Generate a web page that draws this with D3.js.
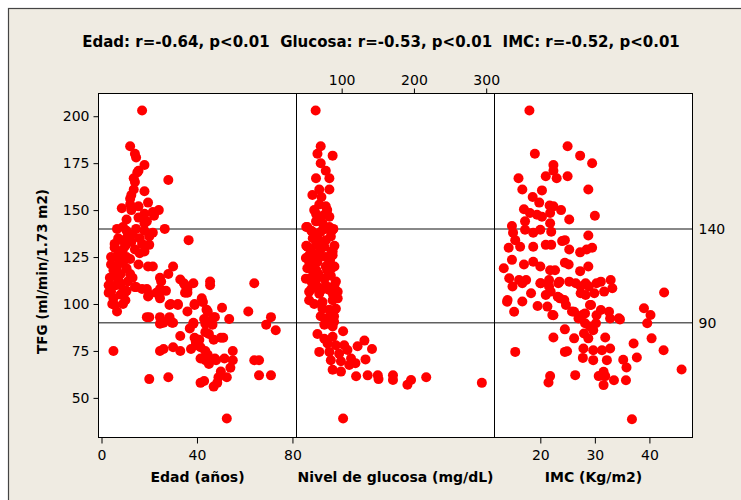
<!DOCTYPE html>
<html>
<head>
<meta charset="utf-8">
<script src="https://cdn.jsdelivr.net/npm/d3@7"></script>
<style>
  body { margin: 0; background: #fff; }
  svg text { font-family: "DejaVu Sans", Verdana, sans-serif; }
</style>
</head>
<body>
<svg id="chart" width="741" height="500"></svg>
<script>
// --- data: [x, TFG] pairs
const edadData = [
  [17,203],[12,184],[14,180],[14.5,178],[18,174],[15.5,171],[15,170],[13.5,167],[14,165],[28,166],
  [18,160],[12.5,158],[13.5,161],[12,156],[19.5,154],[12,153],[15.5,152],[8.5,151],[12.5,150],[24,150],
  [18,148],[21.5,149],[22,147],[10.5,145],[15.5,146],[19,144],[18,143],[6.5,140],[10.5,139],[14.5,140],
  [18,139],[21.5,138],[26.5,140],[36.5,134],[8.5,134],[12.5,133],[17,132],[20,131.5],[5.5,132],[5.5,130],
  [9,129],[14,129],[18,128],[7,127],[4,125],[7,124],[12,124],[16,127],[10.5,125],[6.5,120],
  [10.5,119],[15.5,121],[19.5,120],[21.5,120],[30,120],[28,116],[3.5,114],[7,113],[12,116],[6,115],
  [24.5,114],[25,112],[33,113],[35,110],[38.5,111],[45.5,112],[45.5,110],[64,111],[4,106.5],[10,106.5],
  [14,109],[17,108],[20,105],[24,105],[35,106],[5,103],[10,102],[19.5,104],[24.5,103],[5.5,99.5],
  [9,100],[6.5,96],[19,93],[20,93],[24.5,93],[28.5,99.5],[32,99.5],[28.5,93],[36,96],[39,99.5],
  [42,103],[44,97],[47,93],[24.5,89.5],[30,90],[38.5,89.5],[43.5,89.5],[3,106],[4.5,100],[8,105],
  [10.5,107],[14.5,109],[19,108],[23,106],[24.5,108],[27,107],[26,90],[29,100],[32,100],[29.5,90],
  [34.5,111],[36,106],[36,108],[39,100],[42.5,101],[44.5,96],[38.5,90],[37,87],[43,92],[44.5,91],
  [47.5,93],[50.5,98],[53.5,92],[46.5,89],[43.5,85],[45,84],[39,82],[39.5,80],[41,81],[33,83],
  [47,81],[50,82],[51,82],[30,77],[33,75],[24.5,75],[26,76],[37.5,76],[39.5,78],[41.5,77],
  [43.5,75],[44.5,73],[41.5,71],[43.5,70],[45,68],[47.5,71],[48,70],[51.5,71],[55,70],[55,75],
  [54,66],[52.5,61],[50,64],[49,61],[48.5,58],[47,56],[41.5,58],[43,59],[64,70],[66,70],
  [66,62],[71,62],[69,89],[71,93],[73,86],[61.5,96],[5,75],[20,60],[28,61],[52.5,39],
  [5,118],[8,116],[4,121],[9,122],[6,110],[8,110],[3,110],[11,112],[13,114],[7,135],
  [10,131],[11,136],[9,141],[13,137],[16,135],[20,136]
];

const glucosaData = [
  [64,203],[71,184],[66.5,180],[87.5,179],[71,175],[78,171],[64.5,167],[83,167],[69,161],[59.5,158],
  [83,161],[69,153],[78,152],[64.5,148],[76,147.5],[83,146.5],[64.5,144],[73.5,143],[83,141],[52.5,141],
  [59.5,138.5],[71,138.5],[87.5,139.5],[66.5,135],[78,134],[85,136],[52.5,130.5],[64.5,131.5],[76,130.5],[87.5,128],
  [55,126],[69,125],[83,125],[55,122.5],[66.5,122.5],[83,122.5],[51,141],[58,139],[88.5,140],[51,131],
  [54,125],[56,119],[65,118],[86,128],[84,123.5],[86,119],[60,135],[70,128],[80,118],[75,108],
  [65,110],[85,115],[72,100],[60,115],[78,140],[68,145],[90,110],[58,108],
  [62,150],[72,157],[80,150],[58,128],[73,133],[90,131],[62,121],[90,120],[68,116],[78,110],[58,112],[88,105],
  [50.5,124.5],[64.5,124.5],[78,125],[87.5,126],[52.5,119],[64.5,118],[78,120],[85,119],[50.5,113.5],[64.5,113],
  [76,113.5],[92,112],[55,106.5],[69,105.5],[83,107.5],[94.5,106.5],[55,102],[62,100],[73.5,101],[87.5,102],
  [94.5,103],[73.5,97.5],[83,97],[92,97.5],[71,93.5],[80.5,92.5],[89.5,93.5],[76,89],[87.5,88],[89.5,90.5],
  [66.5,84],[76,81.5],[87.5,82.5],[102,85.5],[80.5,79],[92,78],[103.5,78],[122,77.5],[131.5,80.5],[142,76],
  [69,74.5],[83,74.5],[96.5,73.5],[108,75.5],[85,70],[99,69.5],[113,71],[119,68.5],[133,70.5],[87.5,65],
  [99,64],[110.5,67.5],[120,61.5],[136,62],[150,62],[151,60],[171,62],[171,59.5],[191,57],[196,59.5],
  [217,61],[294,58],[102,39]
];

const imcData = [
  [18,203],[19,180],[25,184],[27.3,179],[29.5,175],[16,167],[21,168],[22.4,174],[22.4,171],[23,167],
  [25,168],[16.7,161],[20.3,160.5],[18.6,157],[28.8,161],[19.8,154],[21.7,152.5],[22.4,152],[23.8,150],[25.3,145],
  [30,147],[17,150.5],[18.1,148.5],[19.4,147.5],[20.3,146.5],[21.8,148.5],[14.8,141.5],[17.2,144],[17.2,139.5],[18.7,138],
  [20,139.5],[21.8,143],[22,138.5],[15,138],[15.4,134],[28.8,136.5],[14.2,130],[16.3,130.5],[18.7,130.5],[21,131.5],
  [22,131.5],[24,133.5],[24.5,134],[25.3,129],[27.3,127.5],[28.5,129],[29.5,130],[13.3,119],[14.8,123.5],[17,121],
  [18.7,122.5],[20,120],[21.8,118],[22.7,118],[24.5,122],[25.2,121],[27.3,117.5],[28.8,120],
  [14.3,113.7],[16.1,112.8],[17.4,112.8],[14.9,109.3],[16.7,111],[20.1,111],[21.6,112.8],[21.6,109.3],[23.5,111.9],[25.3,111.9],
  [26.5,111],[28.3,111],[28.9,109.3],[31.1,111.9],[32.9,112.8],[33.2,108.4],[14,102.1],[16.7,101.3],[18.3,105.7],[19.5,98.9],
  [21,104.8],[21.9,106.6],[23.2,103.9],[24.4,102.1],[27.4,105.7],[28.3,104.8],[29.9,105.7],[31.7,106.6],[27.4,109.3],[15.2,95.9],
  [21.3,98.6],[22.2,94.1],[24.7,99.5],[26.2,95.9],[27.7,94.1],[29.3,99.5],[31.1,96.8],[32.6,95.9],[34.4,92.4],[39,97.7],
  [40.2,94.1],[39.6,89.7],[42.7,106.1],[22.4,94],[25.8,96],[27,92.3],[28.2,95],[30.3,94],[32.8,92.3],[34.6,91.8],
  [28.2,89.7],[29.1,88],[29.7,86],[24.5,86.5],[28,84.3],[30.2,89.7],[22.4,82.2],[26.2,81.7],[28.8,81.7],[31.9,82.2],
  [37.1,79],[40.4,81.7],[27.9,76.3],[29.7,75.4],[31.3,75.4],[32.8,76.3],[24.5,74.5],[24.9,74.8],[42.6,75.4],[15.4,74.5],
  [27.8,71.3],[29.7,70.1],[32.2,70.1],[35.2,70.3],[37.7,71.5],[35.8,66.2],[45.9,65.1],[21.8,61.6],[21.5,58.2],[26.4,62.1],
  [30.7,61.6],[31.6,63.9],[31.9,61.6],[31.6,56.8],[33.5,59.4],[35.7,59.4],[36.8,38.6],[13.9,101.2],[23.6,103],[29.1,99.5],
  [20,111],[23.3,111],[30.3,111]
];

const tfgTicks = [50, 75, 100, 125, 150, 175, 200];
const edadTicks = [0, 40, 80];
const glucosaTicks = [100, 200, 300];
const imcTicks = [20, 30, 40];
const refLines = [90, 140];

const titleText = 'Edad: r=-0.64, p<0.01  Glucosa: r=-0.53, p<0.01  IMC: r=-0.52, p<0.01';
const yTitle = 'TFG (ml/min/1.73 m2)';

// --- layout
const TOP = 93.5, BOTTOM = 437.5;
const EDGES = [98.5, 296.5, 494.5, 692.5];

const svg = d3.select('#chart');

// outer frame
svg.append('rect')
  .attr('x', 8.5).attr('y', 8.5)
  .attr('width', 760).attr('height', 520)
  .attr('fill', '#efebe2')
  .attr('stroke', '#444').attr('stroke-width', 1.2);

const y = d3.scaleLinear().domain([28.9, 212.1]).range([BOTTOM, TOP]);

const panels = [
  { data: edadData, domain: [-1.26, 81.7], ticks: edadTicks, label: 'Edad (años)', axis: 'bottom' },
  { data: glucosaData, domain: [37.5, 311.5], ticks: glucosaTicks, label: 'Nivel de glucosa (mg/dL)', axis: 'top' },
  { data: imcData, domain: [11.6, 47.9], ticks: imcTicks, label: 'IMC (Kg/m2)', axis: 'bottom' }
];

panels.forEach((p, i) => {
  p.x = d3.scaleLinear().domain(p.domain).range([EDGES[i], EDGES[i + 1]]);
});

// panel backgrounds
svg.append('g').selectAll('rect')
  .data(panels)
  .enter()
  .append('rect')
  .attr('x', (d, i) => EDGES[i])
  .attr('y', TOP)
  .attr('width', (d, i) => EDGES[i + 1] - EDGES[i])
  .attr('height', BOTTOM - TOP)
  .attr('fill', '#fff');

// reference lines
svg.append('g').selectAll('line')
  .data(refLines)
  .enter()
  .append('line')
  .attr('x1', EDGES[0]).attr('x2', EDGES[3])
  .attr('y1', d => y(d)).attr('y2', d => y(d))
  .attr('stroke', '#606060')
  .attr('stroke-width', 1.5);

// points
panels.forEach(p => {
  svg.append('g').selectAll('circle')
    .data(p.data)
    .enter()
    .append('circle')
    .attr('cx', d => p.x(d[0]))
    .attr('cy', d => y(d[1]))
    .attr('r', 5)
    .attr('fill', '#ff0000');
});

// panel borders
svg.append('g').selectAll('rect')
  .data(panels)
  .enter()
  .append('rect')
  .attr('x', (d, i) => EDGES[i])
  .attr('y', TOP)
  .attr('width', (d, i) => EDGES[i + 1] - EDGES[i])
  .attr('height', BOTTOM - TOP)
  .attr('fill', 'none')
  .attr('stroke', '#000')
  .attr('stroke-width', 1);

function styleAxis(g) {
  g.select('.domain').remove();
  g.selectAll('text')
    .attr('fill', '#000')
    .style('font-size', '14px')
    .style('font-family', '"DejaVu Sans", Verdana, sans-serif');
  g.selectAll('line').attr('stroke', '#000');
}

// y axis (left)
svg.append('g')
  .attr('transform', `translate(${EDGES[0]},0)`)
  .call(d3.axisLeft(y).tickValues(tfgTicks).tickSize(5).tickPadding(4))
  .call(styleAxis);

// y labels for reference lines (right)
svg.append('g')
  .attr('transform', `translate(${EDGES[3]},0)`)
  .call(d3.axisRight(y).tickValues(refLines).tickSize(0).tickPadding(6))
  .call(styleAxis);

// x axes
panels.forEach(p => {
  if (p.axis === 'top') {
    svg.append('g')
      .attr('transform', `translate(0,${TOP})`)
      .call(d3.axisTop(p.x).tickValues(p.ticks).tickSize(5).tickPadding(4))
      .call(styleAxis);
  } else {
    svg.append('g')
      .attr('transform', `translate(0,${BOTTOM})`)
      .call(d3.axisBottom(p.x).tickValues(p.ticks).tickSize(6).tickPadding(7))
      .call(styleAxis);
  }
});

// axis titles
svg.append('g').selectAll('text')
  .data(panels)
  .enter()
  .append('text')
  .attr('x', (d, i) => (EDGES[i] + EDGES[i + 1]) / 2)
  .attr('y', 482)
  .attr('text-anchor', 'middle')
  .style('font-size', '14px')
  .style('font-weight', 'bold')
  .text(d => d.label);

svg.append('text')
  .attr('transform', `translate(46.5, ${(TOP + BOTTOM) / 2 + 6}) rotate(-90)`)
  .attr('text-anchor', 'middle')
  .style('font-size', '13.5px')
  .style('font-weight', 'bold')
  .text(yTitle);

// title
svg.append('text')
  .attr('x', 381)
  .attr('y', 47)
  .attr('text-anchor', 'middle')
  .style('font-size', '15px')
  .style('font-weight', 'bold')
  .style('white-space', 'pre')
  .text(titleText);
</script>
</body>
</html>
